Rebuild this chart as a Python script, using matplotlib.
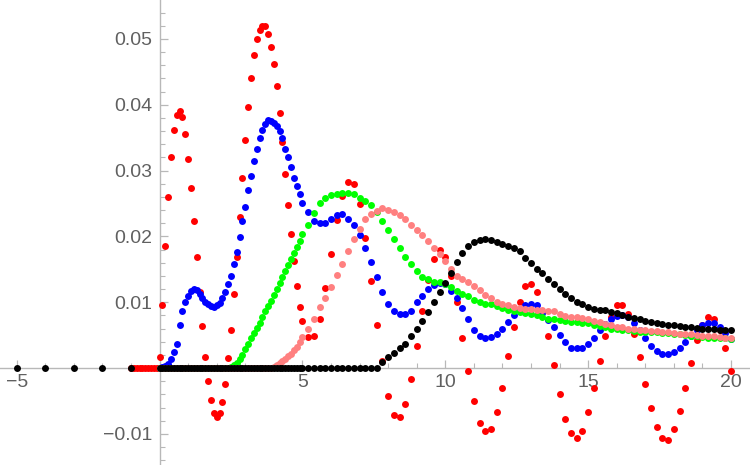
import numpy as np
import matplotlib
matplotlib.use("Agg")
import matplotlib.pyplot as plt
from matplotlib.ticker import FixedLocator, FixedFormatter

# sampling grid (0..5 step 0.1, then 5.2..20 step 0.2)
x_main = [0.0, 0.1, 0.2, 0.3, 0.4, 0.5, 0.6, 0.7, 0.8, 0.9,
          1.0, 1.1, 1.2, 1.3, 1.4, 1.5, 1.6, 1.7, 1.8, 1.9,
          2.0, 2.1, 2.2, 2.3, 2.4, 2.5, 2.6, 2.7, 2.8, 2.9,
          3.0, 3.1, 3.2, 3.3, 3.4, 3.5, 3.6, 3.7, 3.8, 3.9,
          4.0, 4.1, 4.2, 4.3, 4.4, 4.5, 4.6, 4.7, 4.8, 4.9,
          5.0,
          5.2, 5.4, 5.6, 5.8, 6.0, 6.2, 6.4, 6.6, 6.8, 7.0,
          7.2, 7.4, 7.6, 7.8, 8.0, 8.2, 8.4, 8.6, 8.8, 9.0,
          9.2, 9.4, 9.6, 9.8, 10.0, 10.2, 10.4, 10.6, 10.8, 11.0,
          11.2, 11.4, 11.6, 11.8, 12.0, 12.2, 12.4, 12.6, 12.8, 13.0,
          13.2, 13.4, 13.6, 13.8, 14.0, 14.2, 14.4, 14.6, 14.8, 15.0,
          15.2, 15.4, 15.6, 15.8, 16.0, 16.2, 16.4, 16.6, 16.8, 17.0,
          17.2, 17.4, 17.6, 17.8, 18.0, 18.2, 18.4, 18.6, 18.8, 19.0,
          19.2, 19.4, 19.6, 19.8, 20.0]

x_red_neg = [-1.0, -0.9, -0.8, -0.7, -0.6, -0.5, -0.4, -0.3, -0.2, -0.1]
y_red_neg = [0.0] * 10
x_black_neg = [-5, -4, -3, -2, -1]
y_black_neg = [0.0] * 5

red = [0.0017, 0.0096, 0.0185, 0.0260, 0.0321, 0.0362, 0.0384, 0.0390, 0.0381, 0.0355,
       0.0317, 0.0273, 0.0223, 0.0169, 0.0115, 0.0064, 0.0017, -0.0020, -0.0049, -0.0068,
       -0.0075, -0.0068, -0.0052, -0.0024, 0.0015, 0.0058, 0.0112, 0.0169, 0.0230, 0.0289,
       0.0346, 0.0396, 0.0441, 0.0475, 0.0500, 0.0513, 0.0519, 0.0519, 0.0507, 0.0488,
       0.0462, 0.0428, 0.0387, 0.0343, 0.0295, 0.0248, 0.0204, 0.0162, 0.0125, 0.0093,
       0.0071,
       0.0047, 0.0049, 0.0075, 0.0122, 0.0173, 0.0225, 0.0262, 0.0283, 0.0279, 0.0249,
       0.0197, 0.0132, 0.0065, 0.0010, -0.0043, -0.0071, -0.0075, -0.0055, -0.0017, 0.0034,
       0.0087, 0.0133, 0.0166, 0.0179, 0.0169, 0.0140, 0.0100, 0.0046, -0.0005, -0.0050,
       -0.0083, -0.0096, -0.0093, -0.0067, -0.0030, 0.0018, 0.0062, 0.0101, 0.0125, 0.0128,
       0.0116, 0.0085, 0.0049, 0.0005, -0.0039, -0.0077, -0.0099, -0.0106, -0.0096, -0.0067,
       -0.0031, 0.0011, 0.0049, 0.0078, 0.0096, 0.0096, 0.0082, 0.0051, 0.0017, -0.0024,
       -0.0061, -0.0090, -0.0106, -0.0109, -0.0093, -0.0065, -0.0030, 0.0008, 0.0043, 0.0066,
       0.0078, 0.0075, 0.0058, 0.0031, -0.0005]

blue = [0.0000, 0.0001, 0.0003, 0.0006, 0.0014, 0.0024, 0.0037, 0.0065, 0.0087, 0.0100,
        0.0110, 0.0117, 0.0120, 0.0118, 0.0112, 0.0106, 0.0101, 0.0097, 0.0094, 0.0093,
        0.0095, 0.0099, 0.0106, 0.0116, 0.0128, 0.0140, 0.0158, 0.0176, 0.0199, 0.0223,
        0.0245, 0.0270, 0.0292, 0.0314, 0.0333, 0.0349, 0.0361, 0.0371, 0.0377, 0.0375,
        0.0372, 0.0367, 0.0360, 0.0349, 0.0333, 0.0320, 0.0305, 0.0289, 0.0276, 0.0264,
        0.0251,
        0.0237, 0.0223, 0.0220, 0.0221, 0.0226, 0.0233, 0.0234, 0.0227, 0.0218, 0.0202,
        0.0183, 0.0161, 0.0139, 0.0116, 0.0097, 0.0087, 0.0082, 0.0082, 0.0087, 0.0100,
        0.0110, 0.0120, 0.0126, 0.0129, 0.0127, 0.0117, 0.0106, 0.0091, 0.0074, 0.0058,
        0.0049, 0.0046, 0.0047, 0.0051, 0.0059, 0.0070, 0.0080, 0.0090, 0.0096, 0.0098,
        0.0095, 0.0084, 0.0073, 0.0063, 0.0050, 0.0039, 0.0031, 0.0030, 0.0031, 0.0036,
        0.0046, 0.0058, 0.0067, 0.0075, 0.0079, 0.0080, 0.0077, 0.0069, 0.0058, 0.0046,
        0.0034, 0.0026, 0.0021, 0.0021, 0.0024, 0.0030, 0.0039, 0.0049, 0.0058, 0.0065,
        0.0068, 0.0068, 0.0062, 0.0053, 0.0044]

green = [0.0, 0.0, 0.0, 0.0, 0.0, 0.0, 0.0, 0.0, 0.0, 0.0,
         0.0, 0.0, 0.0, 0.0, 0.0, 0.0, 0.0, 0.0, 0.0, 0.0,
         0.0, 0.0, 0.0, 0.0, 0.0, 0.0002, 0.0005, 0.0008, 0.0013, 0.0020,
         0.0029, 0.0037, 0.0045, 0.0053, 0.0061, 0.0069, 0.0077, 0.0086, 0.0094, 0.0102,
         0.0111, 0.0120, 0.0129, 0.0138, 0.0147, 0.0156, 0.0165, 0.0174, 0.0184, 0.0193,
         0.0203,
         0.0217, 0.0236, 0.0250, 0.0259, 0.0263, 0.0265, 0.0266, 0.0266, 0.0265, 0.0259,
         0.0253, 0.0247, 0.0237, 0.0224, 0.0209, 0.0196, 0.0183, 0.0169, 0.0158, 0.0147,
         0.0139, 0.0135, 0.0131, 0.0130, 0.0128, 0.0123, 0.0117, 0.0113, 0.0109, 0.0104,
         0.0101, 0.0098, 0.0097, 0.0094, 0.0091, 0.0088, 0.0086, 0.0085, 0.0083, 0.0082,
         0.0080, 0.0078, 0.0075, 0.0074, 0.0073, 0.0072, 0.0070, 0.0070, 0.0069, 0.0068,
         0.0066, 0.0064, 0.0062, 0.0060, 0.0059, 0.0058, 0.0057, 0.0056, 0.0055, 0.0055,
         0.0054, 0.0054, 0.0053, 0.0053, 0.0052, 0.0051, 0.0050, 0.0049, 0.0048, 0.0047,
         0.0046, 0.0046, 0.0045, 0.0045, 0.0044]

pink = [0.0, 0.0, 0.0, 0.0, 0.0, 0.0, 0.0, 0.0, 0.0, 0.0,
        0.0, 0.0, 0.0, 0.0, 0.0, 0.0, 0.0, 0.0, 0.0, 0.0,
        0.0, 0.0, 0.0, 0.0, 0.0, 0.0, 0.0, 0.0, 0.0, 0.0,
        0.0, 0.0, 0.0, 0.0, 0.0, 0.0, 0.0, 0.0, 0.0, 0.0,
        0.0001, 0.0004, 0.0007, 0.0010, 0.0014, 0.0018, 0.0022, 0.0027, 0.0032, 0.0039,
        0.0047,
        0.0059, 0.0075, 0.0092, 0.0107, 0.0123, 0.0141, 0.0158, 0.0177, 0.0196, 0.0211,
        0.0227, 0.0234, 0.0239, 0.0243, 0.0240, 0.0237, 0.0232, 0.0226, 0.0217, 0.0210,
        0.0202, 0.0193, 0.0183, 0.0173, 0.0162, 0.0150, 0.0140, 0.0135, 0.0130, 0.0125,
        0.0118, 0.0111, 0.0106, 0.0101, 0.0097, 0.0095, 0.0092, 0.0091, 0.0089, 0.0089,
        0.0088, 0.0088, 0.0087, 0.0086, 0.0082, 0.0079, 0.0078, 0.0078, 0.0076, 0.0074,
        0.0072, 0.0070, 0.0067, 0.0065, 0.0063, 0.0062, 0.0060, 0.0059, 0.0058, 0.0057,
        0.0056, 0.0056, 0.0055, 0.0054, 0.0053, 0.0052, 0.0052, 0.0051, 0.0050, 0.0049,
        0.0049, 0.0048, 0.0047, 0.0046, 0.0045]

black = [0.0] * 51 + [
         0.0, 0.0, 0.0, 0.0, 0.0, 0.0, 0.0, 0.0, 0.0, 0.0,
         0.0, 0.0, 0.0, 0.0009, 0.0017, 0.0023, 0.0030, 0.0037, 0.0048, 0.0059,
         0.0071, 0.0085, 0.0101, 0.0116, 0.0129, 0.0145, 0.0161, 0.0174, 0.0185, 0.0192,
         0.0195, 0.0196, 0.0195, 0.0192, 0.0189, 0.0185, 0.0182, 0.0177, 0.0167, 0.0160,
         0.0151, 0.0144, 0.0135, 0.0127, 0.0120, 0.0112, 0.0106, 0.0101, 0.0097, 0.0093,
         0.0090, 0.0088, 0.0088, 0.0085, 0.0083, 0.0081, 0.0078, 0.0076, 0.0074, 0.0072,
         0.0070, 0.0069, 0.0067, 0.0066, 0.0065, 0.0064, 0.0063, 0.0062, 0.0061, 0.0060,
         0.0060, 0.0059, 0.0058, 0.0057, 0.0057]

x_major = [-5, 5, 10, 15, 20]
x_labels = ["\u22125", "5", "10", "15", "20"]
y_major = [-0.01, 0.01, 0.02, 0.03, 0.04, 0.05]
y_labels = ["\u22120.01", "0.01", "0.02", "0.03", "0.04", "0.05"]

plt.rcParams['font.family'] = ['Liberation Sans', 'DejaVu Sans']

fig = plt.figure(figsize=(7.5, 4.65), dpi=100)
ax = fig.add_axes([0, 0, 1, 1])

ms = 5.0
ax.plot(x_red_neg + x_main, y_red_neg + red, 'o', color='#ff0000', ms=ms, mew=0, zorder=3)
ax.plot(x_main, blue, 'o', color='#0000ff', ms=ms, mew=0, zorder=4)
ax.plot(x_main, green, 'o', color='#00ff00', ms=ms, mew=0, zorder=5)
ax.plot(x_main, pink, 'o', color='#ff8080', ms=ms, mew=0, zorder=6)
ax.plot(x_black_neg + x_main, y_black_neg + black, 'o', color='#000000', ms=ms, mew=0, zorder=7)

ax.set_xlim(-5.586, 20.664)
ax.set_ylim(-0.01473, 0.0559)

for s in ['top', 'right']:
    ax.spines[s].set_visible(False)
ax.spines['left'].set_position(('data', 0))
ax.spines['bottom'].set_position(('data', 0))
for s in ['left', 'bottom']:
    ax.spines[s].set_color('#b8b8b8')
    ax.spines[s].set_linewidth(1.0)
    ax.spines[s].set_zorder(1)

x_minor = [v for v in range(-5, 21) if v % 5 != 0]
y_minor = [round(-0.014 + 0.002 * i, 3) for i in range(35) if i % 5 != 2]

ax.xaxis.set_major_locator(FixedLocator(x_major))
ax.xaxis.set_major_formatter(FixedFormatter(x_labels))
ax.xaxis.set_minor_locator(FixedLocator(x_minor))
ax.yaxis.set_major_locator(FixedLocator(y_major))
ax.yaxis.set_major_formatter(FixedFormatter(y_labels))
ax.yaxis.set_minor_locator(FixedLocator(y_minor))

ax.tick_params(axis='both', which='major', direction='in', length=6, width=0.9,
               color='#b8b8b8', labelcolor='#606060', labelsize=14)
ax.tick_params(axis='both', which='minor', direction='in', length=3.5, width=0.8,
               color='#b8b8b8')
ax.tick_params(axis='x', which='major', pad=4)
ax.tick_params(axis='y', which='major', pad=5)
ax.patch.set_alpha(0)

fig.savefig("out.png", dpi=100)
